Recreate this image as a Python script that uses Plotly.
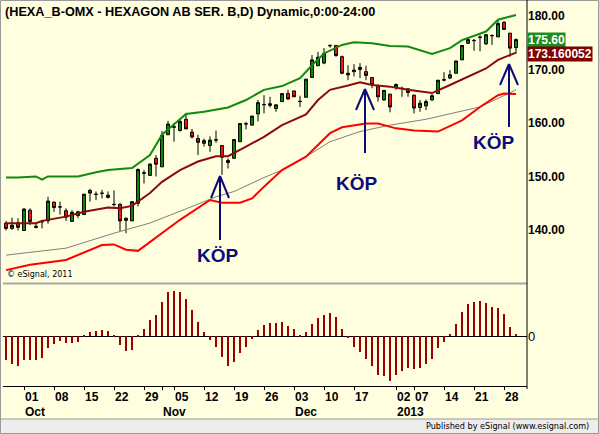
import plotly.graph_objects as go

# ---------------- data ----------------
opens  = [141.25,140.3,141.37,139.9,143.7,140.7,141.5,141.7,145.2,144.35,
          143.6,141.6,142.7,142.9,147.4,146.7,146.9,146.5,144.8,144.8,
          141.8,141.7,145.0,150.6,150.2,153.4,151.8,157.8,159.2,158.6,
          160.7,158.3,157.1,156.2,155.8,156.8,155.8,153.0,153.4,156.5,
          159.8,159.6,161.7,163.4,163.3,162.7,164.0,165.5,166.0,164.0,
          164.8,168.5,170.7,171.2,174.5,174.5,172.4,169.3,169.6,170.0,
          169.6,168.5,166.8,164.3,165.4,166.6,166.5,166.4,165.2,162.9,
          163.2,164.3,165.5,168.0,168.4,169.3,171.8,174.9,175.45,176.0,
          174.8,176.3,176.1,178.8,176.8,174.1]
highs  = [141.7,142.3,142.2,144.1,144.05,141.4,141.9,146.2,145.3,145.3,
          144.05,143.7,143.6,146.7,147.7,147.2,147.5,147.2,147.4,145.0,
          142.3,145.3,151.5,151.2,152.5,154.0,158.5,160.4,159.9,160.6,
          161.9,158.9,157.8,157.1,157.5,158.6,155.8,153.4,156.9,159.9,
          160.2,161.3,164.3,165.2,164.9,163.4,165.5,166.2,166.0,165.1,
          168.2,172.7,173.3,174.0,174.7,174.5,172.6,170.8,171.0,171.2,
          170.7,168.5,167.2,166.1,165.4,167.4,166.8,166.4,165.3,164.3,
          164.4,165.4,168.0,169.5,169.9,171.6,174.6,176.0,175.7,176.4,
          176.6,176.6,179.1,179.1,176.8,175.8]
lows   = [139.9,140.0,139.9,139.9,140.9,140.3,140.3,141.2,143.4,142.9,
          141.7,141.6,142.2,142.9,145.3,145.6,145.9,145.9,144.4,139.8,
          139.4,141.7,144.4,148.7,150.1,150.0,151.8,157.8,156.5,158.4,
          158.9,157.1,154.0,155.6,154.6,156.3,150.3,151.5,153.4,156.5,
          158.8,159.6,160.3,161.8,162.9,162.1,164.0,164.3,164.9,163.0,
          164.8,168.5,170.7,171.0,174.1,172.4,169.1,168.0,168.7,168.4,
          168.0,166.5,164.0,164.2,162.0,166.2,164.9,164.9,161.8,162.1,
          162.4,164.2,165.4,167.8,168.2,169.3,171.8,174.8,173.5,173.4,
          174.6,174.6,176.1,177.4,172.4,173.0]
closes = [140.3,140.87,140.5,143.9,141.6,140.5,141.6,145.4,144.2,144.3,
          142.4,143.3,143.4,146.7,146.9,146.65,146.85,146.1,144.75,141.7,
          142.2,145.3,151.3,150.7,152.3,152.3,157.7,159.8,159.3,160.3,
          158.9,157.4,156.4,156.7,156.8,156.85,153.6,152.6,156.9,159.9,
          159.85,161.3,163.8,163.45,163.6,163.4,165.5,164.5,164.9,164.05,
          168.2,171.8,172.3,173.0,174.45,172.6,169.3,169.0,169.9,170.4,
          168.9,167.2,164.9,166.1,163.0,167.2,166.45,165.7,162.8,163.7,
          164.0,165.1,168.0,168.1,169.0,171.6,174.5,175.6,175.4,176.05,
          176.5,176.35,178.6,177.5,174.0,175.6]

upper_x = [0,2,5,6,7,12,15,17,21,24,26,30,33,37,40,43,46,49,51,53,56,58,61,64,67,71,74,76,80,82,85]
upper_y = [149.8,149.8,150.0,149.4,150.0,150.0,150.8,151.2,151.6,154.0,157.8,161.7,162.1,162.9,164.3,
           166.2,166.9,168.4,170.8,173.0,174.6,175.1,174.9,174.4,174.3,172.9,174.0,175.5,177.1,179.3,180.2]
mid_x = [0,5,6,10,13,17,19,21,24,26,29,32,35,37,40,43,46,50,52,54,57,59,61,64,67,71,74,77,80,82,85]
mid_y = [141.25,141.25,141.7,142.5,143.4,144.2,144.05,144.5,146.9,149.0,151.2,152.8,153.8,153.8,155.6,
         157.4,159.6,161.6,164.3,166.2,167.0,167.6,167.1,166.8,166.2,165.6,167.1,168.7,170.2,171.8,173.16]
gray_x = [0,10,18,24,29,35,38,43,46,50,54,59,64,70,79,85]
gray_y = [135.3,136.6,139.4,141.3,143.5,146.2,147.2,149.8,151.2,153.7,156.5,158.4,159.6,160.7,163.0,166.2]
lower_x = [0,4,10,16,18,20,22,24,26,29,34,36,39,41,43,46,50,54,56,60,62,65,68,72,76,79,82,83,85]
lower_y = [132.5,133.5,134.4,137.2,137.3,136.3,136.1,137.8,139.4,141.9,145.6,145.1,145.1,145.9,148.1,
           151.2,153.7,158.1,159.2,159.9,159.9,159.0,158.6,158.4,160.5,163.0,165.2,165.5,165.4]

hist = [-71,-83,-89,-71,-71,-71,-65,-35,-23,-13,
        -20,-20,-16,4,13,16,19,16,4,-26,
        -44,-41,4,22,49,64,103,133,136,133,
        112,79,43,13,-10,-31,-61,-89,-77,-50,
        -32,-7,19,34,40,40,43,31,22,5,
        13,37,55,64,70,58,22,-6,-31,-46,
        -68,-88,-115,-119,-133,-115,-103,-95,-98,-94,
        -83,-68,-34,-16,6,37,73,97,103,106,
        100,88,85,67,28,7]

price_ticks = [140, 150, 160, 170, 180]
tick_idx = [3,8,13,18,23,26,28,33,38,43,48,53,58,65,68,73,78,83]
day_labels = ["01","08","15","22","29","05","12","19","26","03","10","17","02","07","14","21","28"]
day_label_idx = [3,8,13,18,23,28,33,38,43,48,53,58,65,68,73,78,83]
month_labels = ["Oct","Nov","Dec","2013"]
month_label_idx = [3,26,48,65]
last_close_label = "175.60"
mid_last_label = "173.160052"

# ---------------- geometry helpers ----------------
W, H = 599, 434
L, R, T, B = 3, 527, 2, 386
def px(x): return (x - L) / (R - L)
def py(y): return (B - y) / (B - T)

bg = "#FFFFE0"
navy = "#0B0B7A"
idx = list(range(len(closes)))

fig = go.Figure()
fig.add_trace(go.Scatter(x=gray_x, y=gray_y, mode="lines", line=dict(color="#7F7F7F", width=1), xaxis="x", yaxis="y"))
fig.add_trace(go.Scatter(x=lower_x, y=lower_y, mode="lines", line=dict(color="#FF0000", width=2), xaxis="x", yaxis="y"))
fig.add_trace(go.Scatter(x=upper_x, y=upper_y, mode="lines", line=dict(color="#108A10", width=2), xaxis="x", yaxis="y"))
fig.add_trace(go.Scatter(x=mid_x, y=mid_y, mode="lines", line=dict(color="#8B0A0A", width=2), xaxis="x", yaxis="y"))
fig.add_trace(go.Candlestick(
    x=idx, open=opens, high=highs, low=lows, close=closes, xaxis="x", yaxis="y",
    increasing=dict(line=dict(color="#000000", width=1), fillcolor="#0A8A0A"),
    decreasing=dict(line=dict(color="#000000", width=1), fillcolor="#FF1010"),
    whiskerwidth=0))
fig.add_trace(go.Bar(x=idx, y=hist, xaxis="x", yaxis="y2", marker=dict(color="#990000", line=dict(width=0)), width=0.36))

shapes = []
shapes.append(dict(type="rect", xref="paper", yref="paper", x0=px(0.5), x1=px(598.5), y0=py(0.5), y1=py(433.5),
                   line=dict(color="#9A9A9A", width=1), layer="below"))
shapes.append(dict(type="rect", xref="paper", yref="paper", x0=px(0.5), x1=px(598.5), y0=py(419), y1=py(433.5),
                   fillcolor="#EDEDED", line=dict(color="#9A9A9A", width=1)))
shapes.append(dict(type="line", xref="paper", yref="paper", x0=px(3), x1=px(527), y0=py(283.5), y1=py(283.5),
                   line=dict(color="#A8A8A8", width=2)))
shapes.append(dict(type="line", xref="paper", yref="paper", x0=px(527), x1=px(527), y0=py(0), y1=py(389),
                   line=dict(color="#000000", width=1)))
arrows = [(220, 176, 240, 9, 22), (365, 89, 153, 9, 21), (509, 64, 127, 9, 21)]
for ax, ytip, ybot, dx, dy in arrows:
    shapes.append(dict(type="line", xref="paper", yref="paper", x0=px(ax), x1=px(ax), y0=py(ytip), y1=py(ybot),
                       line=dict(color=navy, width=2)))
    shapes.append(dict(type="line", xref="paper", yref="paper", x0=px(ax), x1=px(ax - dx), y0=py(ytip), y1=py(ytip + dy),
                       line=dict(color=navy, width=2)))
    shapes.append(dict(type="line", xref="paper", yref="paper", x0=px(ax), x1=px(ax + dx), y0=py(ytip), y1=py(ytip + dy),
                       line=dict(color=navy, width=2)))

annotations = []
annotations.append(dict(text="(HEXA_B-OMX - HEXAGON AB SER. B,D) Dynamic,0:00-24:00", xref="paper", yref="paper",
                        x=px(3), y=py(12), xanchor="left", yanchor="middle", showarrow=False,
                        font=dict(family="Liberation Sans, Arial", size=12.7, color="#000000", weight="bold")))
for (cx, cy) in [(218, 255), (357, 183), (494, 142)]:
    annotations.append(dict(text="KÖP", xref="paper", yref="paper", x=px(cx), y=py(cy), xanchor="center", yanchor="middle",
                            showarrow=False, font=dict(family="Liberation Sans, Arial", size=19, color=navy, weight="bold")))
annotations.append(dict(text="\u00a9 eSignal, 2011", xref="paper", yref="paper", x=px(5), y=py(274), xanchor="left",
                        yanchor="middle", showarrow=False, font=dict(family="DejaVu Sans", size=8, color="#000000")))
annotations.append(dict(text="Published by eSignal (www.esignal.com)", xref="paper", yref="paper", x=px(591), y=py(426),
                        xanchor="right", yanchor="middle", showarrow=False,
                        font=dict(family="DejaVu Sans Condensed, DejaVu Sans", size=9, color="#000000")))
annotations.append(dict(text=last_close_label, xref="paper", yref="paper", x=px(527), y=py(40), xanchor="left",
                        yanchor="middle", showarrow=False, bgcolor="#1E8C1E", borderpad=0,
                        font=dict(family="Liberation Sans, Arial", size=12, color="#FFFFFF", weight="bold")))
annotations.append(dict(text=mid_last_label, xref="paper", yref="paper", x=px(527), y=py(53.5), xanchor="left",
                        yanchor="middle", showarrow=False, bgcolor="#800000", borderpad=0,
                        font=dict(family="Liberation Sans, Arial", size=12, color="#FFFFFF", weight="bold")))
datefont = dict(family="Liberation Sans Narrow, Arial Narrow, Liberation Sans", size=12, color="#000000", weight="bold")
for xi, t in zip(day_label_idx, day_labels):
    annotations.append(dict(text=t, xref="x", yref="paper", x=xi, y=py(397), xanchor="left", yanchor="middle",
                            showarrow=False, font=datefont, xshift=-1))
for xi, t in zip(month_label_idx, month_labels):
    annotations.append(dict(text=t, xref="x", yref="paper", x=xi, y=py(412), xanchor="left", yanchor="middle",
                            showarrow=False, font=datefont, xshift=-1))

fig.update_layout(
    width=W, height=H, margin=dict(l=L, r=W - R, t=T, b=H - B, pad=0),
    paper_bgcolor=bg, plot_bgcolor=bg, showlegend=False, bargap=0,
    xaxis=dict(domain=[0, 1], range=[-0.5, 86.83], anchor="y2", showgrid=False, zeroline=False,
               tickvals=tick_idx, ticktext=[""] * len(tick_idx), ticks="outside", ticklen=3, tickcolor="#000000",
               showline=True, linecolor="#000000", linewidth=1, rangeslider=dict(visible=False)),
    yaxis=dict(domain=[py(283), 1], range=[130.09, 182.62], side="right", anchor="x", showgrid=False,
               zeroline=False, tickvals=price_ticks, tickformat=".2f", ticks="", showline=False,
               tickfont=dict(family="Liberation Sans, Arial", size=12, color="#000000", weight="bold")),
    yaxis2=dict(domain=[0, py(285)], range=[-149, 154], side="right", anchor="x", showgrid=False,
                zeroline=True, zerolinecolor="#000000", zerolinewidth=1, tickvals=[0], ticktext=["0"], ticks="",
                showline=False, tickfont=dict(family="Liberation Sans, Arial", size=13, color="#000000")),
    shapes=shapes, annotations=annotations,
)

fig.write_html("out.html")
